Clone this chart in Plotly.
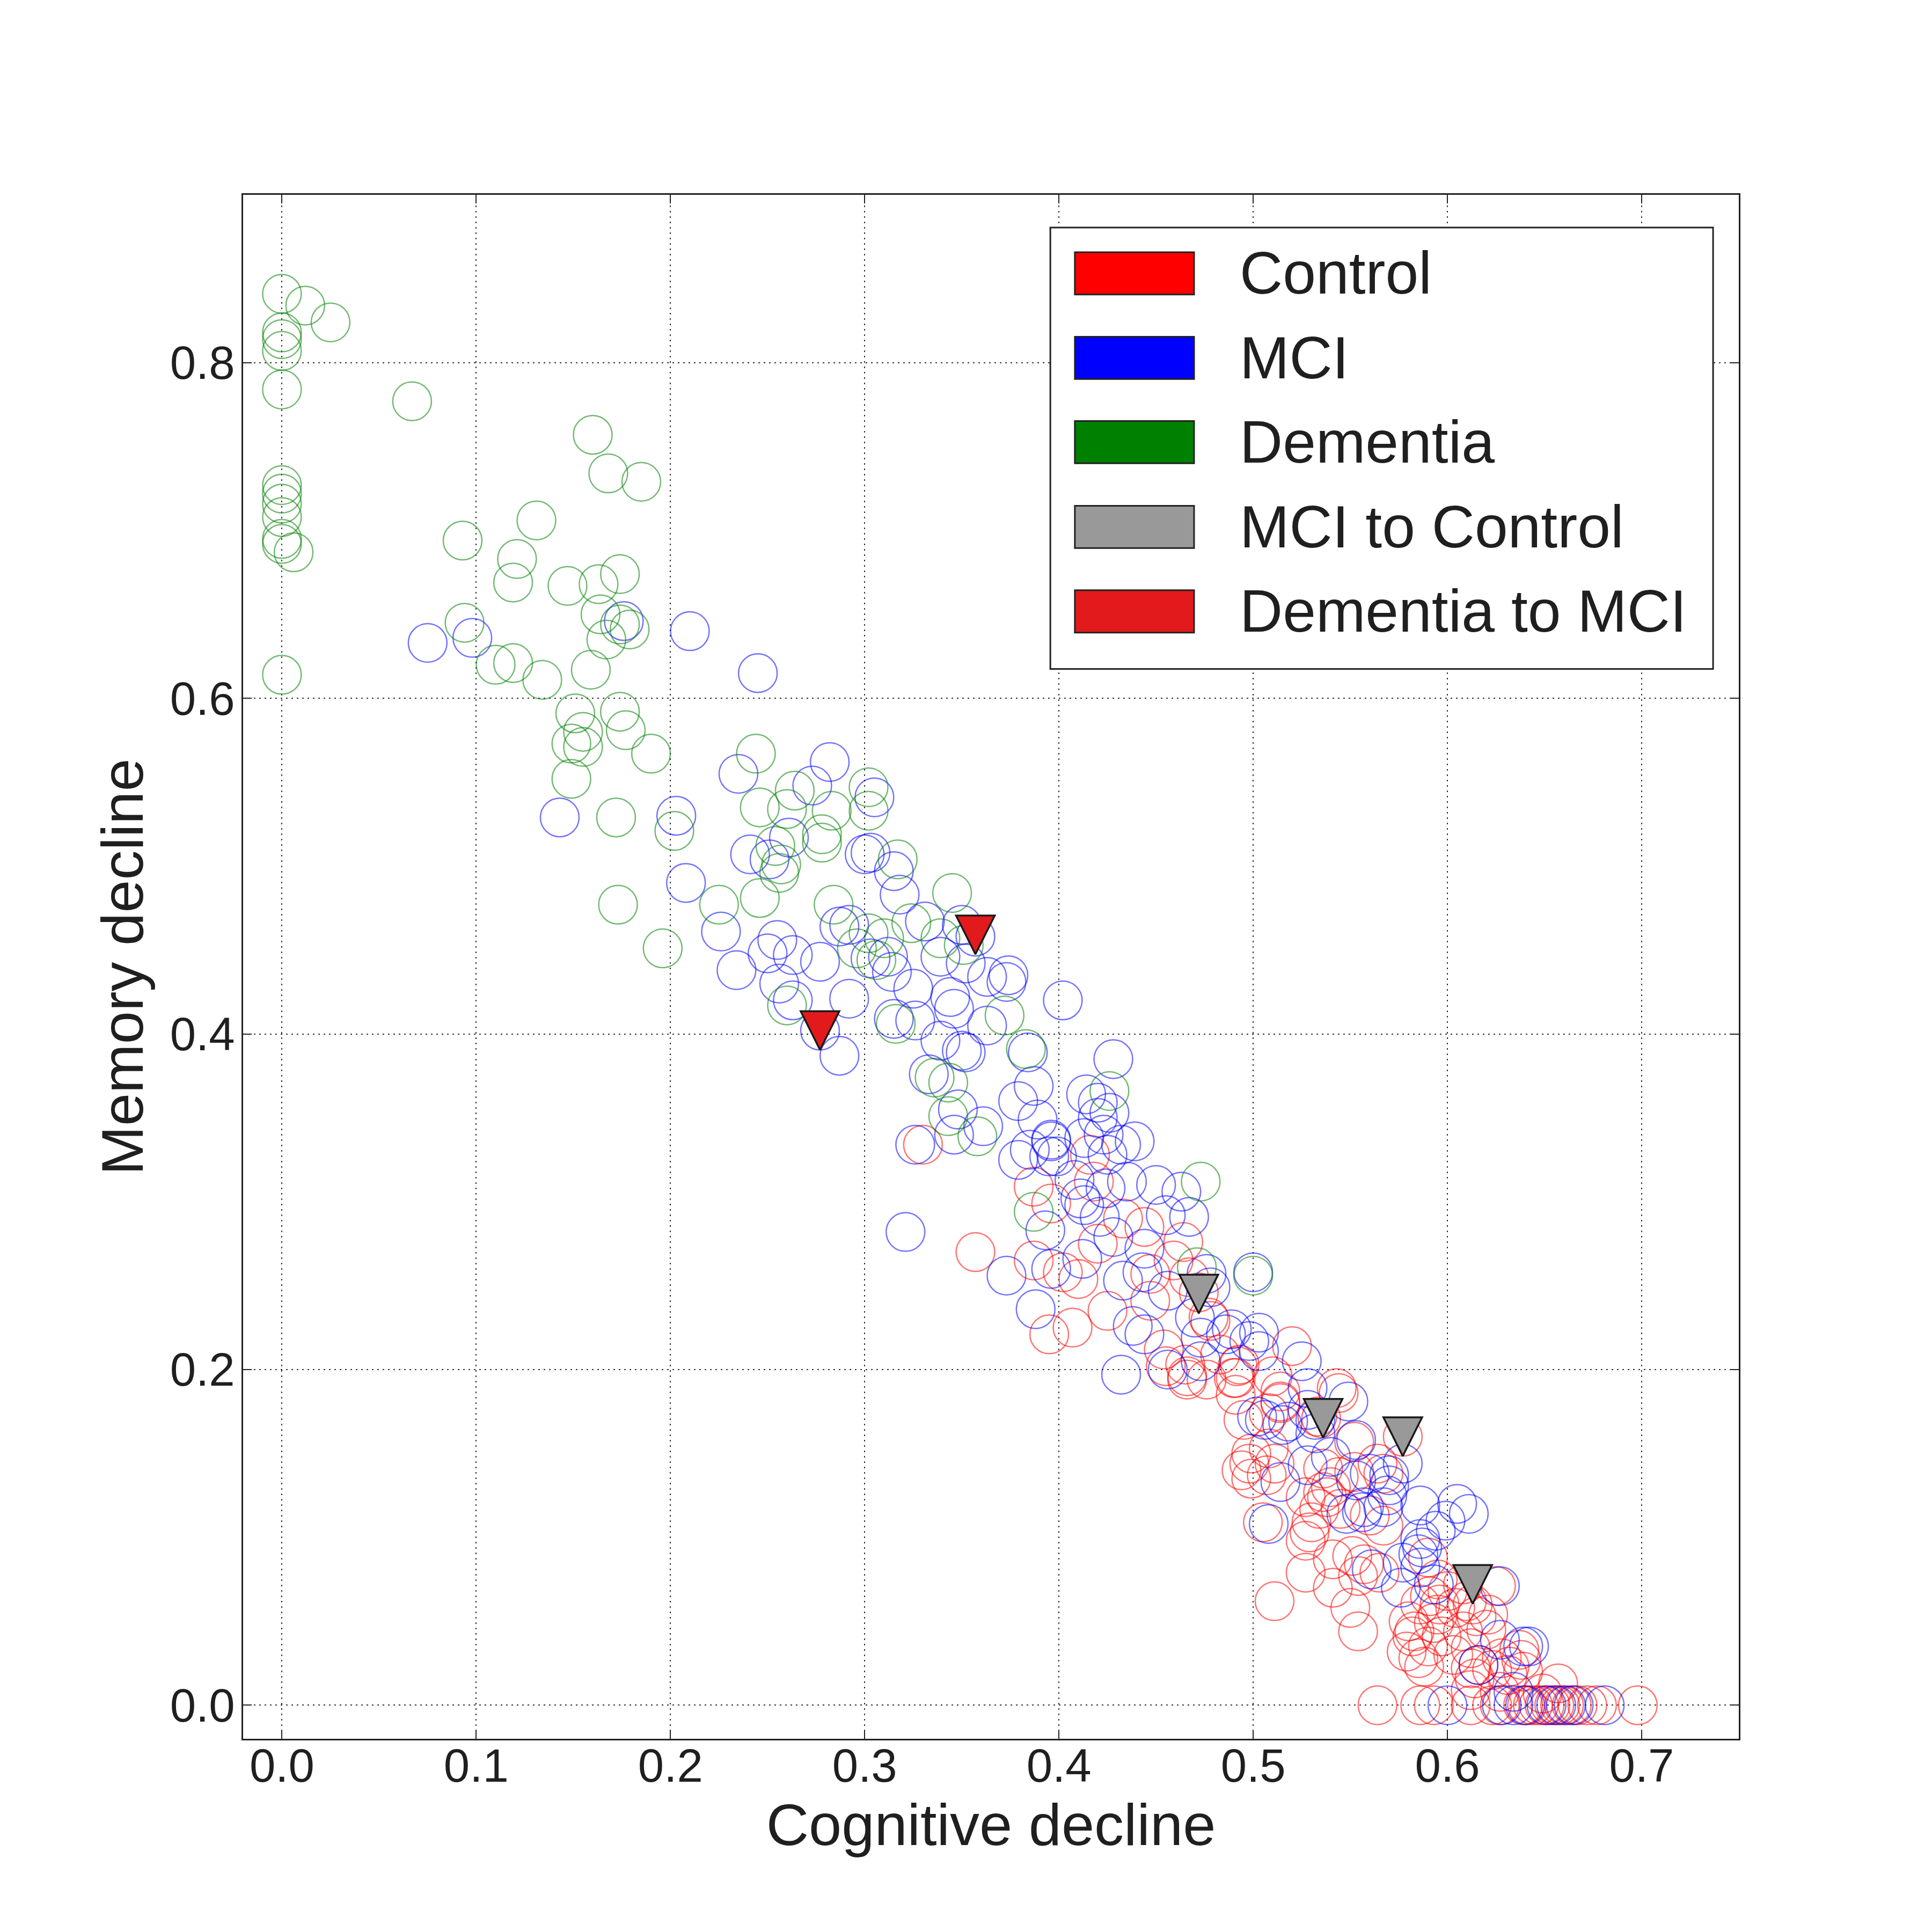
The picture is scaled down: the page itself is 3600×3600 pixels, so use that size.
import plotly.graph_objects as go

# ---------------- data ----------------
control_x = [0.330,0.416,0.418,0.387,0.396,0.357,0.387,0.402,0.410,0.420,0.433,0.444,0.464,0.459,0.447,0.447,0.472,
             0.395,0.407,0.425,0.478,0.454,0.455,0.465,0.466,0.476,0.483,0.492,0.491,0.520,0.514,0.491,0.495,0.514,
             0.544,0.535,0.477,0.493,0.490,0.510,0.543,0.514,0.508,0.533,0.552,0.466,
             0.577,0.564,0.590,0.557,0.595,0.591,0.580,0.582,0.593,0.597,0.604,0.608,0.615,0.621,0.585,0.588,0.612,
             0.614,0.612,0.638,0.612,0.627,0.657,0.649,0.623,
             0.499,0.508,0.499,0.507,0.505,0.511,0.527,0.529,0.527,0.527,0.538,0.541,0.541,0.550,0.554,0.551,0.554,
             0.544,0.536,0.534,0.545,0.560,
             0.600,0.610,0.603,0.596,0.620,0.628,0.631,
             0.467,0.494,0.498,0.511,0.536,0.540,0.552,0.567,0.567,0.530,0.613,0.625,0.637,0.639,0.632,0.616,
             0.579,0.590,0.583,0.595,0.586,0.565,0.608,
             0.564,0.586,0.593,0.612,0.623,0.627,0.639,0.641,0.644,0.647,0.650,0.653,0.655,0.658,0.660,0.664,0.667,
             0.672,0.677,0.698]
control_y = [0.334,0.328,0.312,0.309,0.299,0.270,0.265,0.258,0.254,0.275,0.290,0.285,0.276,0.265,0.257,0.241,0.246,
             0.221,0.225,0.235,0.229,0.212,0.202,0.203,0.194,0.194,0.209,0.202,0.195,0.214,0.187,0.185,0.170,0.180,
             0.186,0.171,0.231,0.203,0.195,0.196,0.189,0.181,0.174,0.172,0.157,0.196,
             0.160,0.144,0.088,0.084,0.075,0.065,0.050,0.041,0.049,0.041,0.058,0.044,0.053,0.054,0.028,0.023,0.034,
             0.016,0.022,0.027,0.009,0.008,0.013,0.007,0.021,
             0.150,0.153,0.135,0.137,0.109,0.062,0.124,0.103,0.098,0.079,0.124,0.087,0.070,0.058,0.044,0.089,0.077,
             0.136,0.127,0.117,0.117,0.113,
             0.068,0.062,0.030,0.060,0.045,0.028,0.018,
             0.255,0.140,0.144,0.144,0.141,0.130,0.139,0.138,0.107,0.109,0.060,0.071,0.033,0.020,0.023,0.024,
             0.032,0.035,0.044,0.054,0.060,0.079,0.072,
             0.0,0.0,0.0,0.0,0.0,0.0,0.0,0.0,0.0,0.0,0.0,0.0,0.0,0.0,0.0,0.0,0.0,
             0.0,0.0,0.0]

mci_x = [0.075,0.098,0.176,0.210,0.143,0.203,0.245,
         0.235,0.282,0.273,0.305,0.261,0.241,0.251,0.300,0.303,0.315,0.318,0.208,0.226,0.234,0.255,0.250,0.263,
         0.277,0.256,0.263,0.292,0.287,0.292,0.303,0.312,0.314,0.331,0.350,0.357,0.339,0.352,0.363,0.374,0.373,
         0.325,0.344,0.346,0.315,0.326,0.402,0.363,0.339,0.350,0.352,0.384,0.277,0.287,0.333,0.387,0.379,0.389,
         0.348,0.346,0.361,0.326,0.379,0.385,0.396,0.399,
         0.428,0.414,0.420,0.426,0.420,0.396,0.395,0.413,0.423,0.439,0.425,0.432,0.408,0.424,0.411,0.413,0.421,
         0.435,0.450,0.463,0.467,0.455,0.393,0.321,0.373,0.396,0.412,0.428,0.444,0.476,0.500,0.433,0.443,0.456,
         0.478,0.388,0.438,0.444,0.470,0.473,0.456,0.432,0.489,0.503,0.498,0.503,0.525,0.502,0.506,0.518,0.549,
         0.532,
         0.486,0.528,0.515,0.532,0.553,0.473,0.577,0.570,0.560,0.569,0.567,0.557,0.586,0.605,0.611,0.594,0.586,
         0.585,0.586,0.577,0.561,0.576,0.627,0.627,0.639,0.642,0.616,0.634,0.514,0.508,0.556,0.553,0.548,
         0.528,0.540,0.528,0.570,0.599,0.587,0.593,
         0.600,0.628,0.634,0.640,0.651,0.656,0.661,0.665,0.681]
mci_y = [0.633,0.636,0.646,0.640,0.529,0.530,0.615,
         0.555,0.562,0.548,0.541,0.517,0.507,0.504,0.507,0.508,0.497,0.483,0.490,0.461,0.438,0.456,0.448,0.447,
         0.443,0.430,0.420,0.421,0.464,0.465,0.445,0.446,0.437,0.467,0.465,0.458,0.446,0.442,0.434,0.435,0.431,
         0.427,0.422,0.415,0.409,0.408,0.420,0.405,0.396,0.390,0.389,0.389,0.402,0.387,0.376,0.369,0.360,0.349,
         0.355,0.340,0.345,0.334,0.325,0.331,0.336,0.327,
         0.385,0.364,0.359,0.353,0.350,0.337,0.327,0.338,0.340,0.336,0.328,0.334,0.313,0.308,0.302,0.298,0.291,
         0.312,0.310,0.306,0.291,0.292,0.283,0.282,0.256,0.260,0.266,0.279,0.272,0.257,0.258,0.253,0.258,0.247,
         0.249,0.236,0.226,0.221,0.231,0.219,0.200,0.197,0.224,0.222,0.217,0.211,0.205,0.172,0.170,0.169,0.181,
         0.170,
         0.221,0.189,0.167,0.162,0.158,0.205,0.144,0.137,0.138,0.125,0.118,0.118,0.119,0.120,0.114,0.104,0.099,
         0.090,0.082,0.085,0.081,0.070,0.071,0.039,0.035,0.035,0.024,0.008,0.133,0.108,0.115,0.134,0.114,
         0.176,0.148,0.143,0.131,0.110,0.094,0.072,
         0.0,0.0,0.0,0.0,0.0,0.0,0.0,0.0,0.0]

dementia_x = [0.0,0.012,0.025,0.0,0.0,0.0,0.0,0.067,0.160,0.168,0.185,
              0.0,0.0,0.0,0.0,0.0,0.0,0.006,0.093,0.131,0.121,0.119,0.147,0.163,0.174,0.164,0.174,0.179,0.167,
              0.094,0.110,0.119,0.134,0.159,0.0,0.151,0.174,0.155,0.177,0.149,0.155,0.190,0.149,0.172,0.202,
              0.244,0.264,0.246,0.260,0.283,0.302,0.302,0.254,0.278,0.278,0.257,0.256,0.317,0.173,0.225,0.246,
              0.196,0.260,0.284,0.302,0.296,0.310,0.306,0.324,0.345,0.339,0.351,0.316,0.372,0.383,0.336,0.343,
              0.343,0.358,0.426,0.473,0.387,0.471,0.500]
dementia_y = [0.841,0.834,0.824,0.818,0.814,0.807,0.784,0.777,0.757,0.734,0.729,
              0.727,0.722,0.716,0.708,0.695,0.692,0.687,0.694,0.706,0.683,0.669,0.667,0.668,0.674,0.650,0.644,
              0.641,0.635,0.645,0.620,0.621,0.611,0.617,0.614,0.591,0.592,0.580,0.581,0.573,0.571,0.567,0.552,
              0.529,0.521,
              0.567,0.545,0.535,0.534,0.533,0.547,0.533,0.512,0.519,0.514,0.501,0.496,0.504,0.477,0.477,0.481,
              0.451,0.417,0.477,0.460,0.451,0.457,0.444,0.466,0.484,0.457,0.453,0.406,0.411,0.391,0.374,0.371,
              0.351,0.339,0.366,0.312,0.294,0.261,0.256]

mci_to_control_x = [0.472, 0.536, 0.577, 0.613]
mci_to_control_y = [0.245, 0.171, 0.160, 0.072]

dem_to_mci_x = [0.277, 0.357]
dem_to_mci_y = [0.402, 0.459]

legend_labels = ["Control", "MCI", "Dementia", "MCI to Control", "Dementia to MCI"]
legend_colors = ["#ff0000", "#0000ff", "#008000", "#999999", "#e31a1c"]

x_ticks = [0.0, 0.1, 0.2, 0.3, 0.4, 0.5, 0.6, 0.7]
y_ticks = [0.0, 0.2, 0.4, 0.6, 0.8]

# ---------------- figure ----------------
FONT = "Liberation Sans, Arial, Helvetica, sans-serif"
TXT = "#1f1f1f"
CIRCLE = 72
LW = 2.5
W, H = 3600, 3600
M = dict(l=445, r=368, t=355, b=368)
X_RANGE = [-0.02, 0.75]
Y_RANGE = [-0.02, 0.9]

fig = go.Figure()

def circles(x, y, color, name):
    fig.add_trace(go.Scatter(
        x=x, y=y, mode="markers", name=name, showlegend=False,
        marker=dict(symbol="circle-open", size=CIRCLE, color=color,
                    line=dict(width=LW, color=color)),
        hoverinfo="skip"))

circles(control_x, control_y, "rgba(255,0,0,0.55)", "Control")
circles(mci_x, mci_y, "rgba(0,0,255,0.55)", "MCI")
circles(dementia_x, dementia_y, "rgba(0,128,0,0.55)", "Dementia")

# matplotlib 'v' marker: isoceles triangle as tall as it is wide, centred on the point.
# Plotly's "arrow-down" has that shape but is anchored at its tip, so the
# anchor is moved down by half the marker height (converted to data units).
TRI = 72
plot_h_px = H - M["t"] - M["b"]
half_tri = (TRI / 2) * (Y_RANGE[1] - Y_RANGE[0]) / plot_h_px

def tris(x, y, color, name):
    fig.add_trace(go.Scatter(
        x=x, y=[v - half_tri for v in y], mode="markers", name=name, showlegend=False,
        marker=dict(symbol="arrow-down", size=TRI, color=color,
                    line=dict(width=3.5, color="#1a1a1a")),
        hoverinfo="skip"))

tris(mci_to_control_x, mci_to_control_y, legend_colors[3], "MCI to Control")
tris(dem_to_mci_x, dem_to_mci_y, legend_colors[4], "Dementia to MCI")

# manual legend (matplotlib-style big patches)
fig.add_shape(type="rect", xref="paper", yref="paper", layer="above",
              x0=0.5397, x1=0.9828, y0=0.6929, y1=0.9788,
              line=dict(color="#222222", width=3), fillcolor="white")
row_y = [0.9491, 0.8944, 0.8398, 0.7849, 0.7302]
for lab, col, ry in zip(legend_labels, legend_colors, row_y):
    fig.add_shape(type="rect", xref="paper", yref="paper", layer="above",
                  x0=0.5561, x1=0.6358, y0=ry - 0.0137, y1=ry + 0.0137,
                  fillcolor=col, line=dict(color="#222222", width=3))
    fig.add_annotation(x=0.6656, y=ry, xref="paper", yref="paper", text=lab,
                       showarrow=False, xanchor="left", yanchor="middle",
                       font=dict(family=FONT, size=111, color=TXT))

axis_common = dict(
    showline=True, linecolor="#222222", linewidth=3, mirror="ticks",
    ticks="inside", ticklen=16, tickwidth=2, tickcolor="#222222",
    showgrid=True, gridcolor="#333333", gridwidth=2, griddash="3px,7px",
    zeroline=False, tickformat=".1f",
    tickfont=dict(family=FONT, size=87, color=TXT),
)

fig.update_xaxes(range=X_RANGE, tickvals=x_ticks, ticklabelstandoff=-27,
                 title=dict(text="Cognitive decline", font=dict(family=FONT, size=110, color=TXT), standoff=0),
                 **axis_common)
fig.update_yaxes(range=Y_RANGE, tickvals=y_ticks, ticklabelstandoff=-5,
                 title=dict(text="Memory decline", font=dict(family=FONT, size=110, color=TXT), standoff=14),
                 **axis_common)

fig.update_layout(
    width=W, height=H,
    margin=M,
    paper_bgcolor="white", plot_bgcolor="white",
    showlegend=False,
)

fig.write_html("out.html")
